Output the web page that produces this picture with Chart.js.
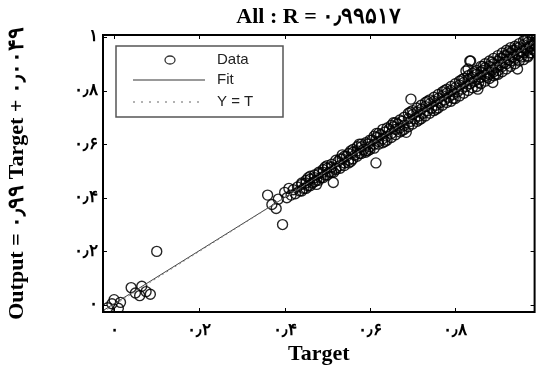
<!DOCTYPE html>
<html>
<head>
<meta charset="utf-8">
<script src="https://cdn.jsdelivr.net/npm/chart.js@4.4.1/dist/chart.umd.min.js"></script>
<style>
  html, body { margin: 0; padding: 0; background: #fff; }
</style>
</head>
<body>
<canvas id="myChart" width="541" height="376"></canvas>
<script>
// network targets and outputs
const targets = [
  -0.015, -0.005, 0.0, 0.01, 0.015, 0.04, 0.05, 0.06, 0.065, 0.075,
  0.085, 0.1, 0.36, 0.37, 0.38, 0.385, 0.395, 0.40, 0.405, 0.41,
  0.415, 0.42, 0.425, 0.43, 0.435, 0.44, 0.445, 0.45, 0.455, 0.46,
  0.465, 0.47, 0.475, 0.48, 0.485, 0.49, 0.495, 0.50, 0.505, 0.51,
  0.514, 0.52, 0.525, 0.53, 0.535, 0.54, 0.545, 0.55, 0.555, 0.56,
  0.565, 0.57, 0.575, 0.58, 0.585, 0.59, 0.595, 0.60, 0.605, 0.61,
  0.614, 0.615, 0.62, 0.625, 0.63, 0.635, 0.64, 0.645, 0.65, 0.655,
  0.66, 0.665, 0.67, 0.675, 0.68, 0.685, 0.69, 0.695, 0.696, 0.70,
  0.705, 0.71, 0.715, 0.72, 0.725, 0.73, 0.735, 0.74, 0.745, 0.75,
  0.755, 0.76, 0.765, 0.77, 0.775, 0.78, 0.785, 0.79, 0.795, 0.80,
  0.805, 0.81, 0.815, 0.82, 0.825, 0.83, 0.83, 0.835, 0.836, 0.84,
  0.845, 0.85, 0.853, 0.855, 0.86, 0.86, 0.865, 0.87, 0.87, 0.875,
  0.88, 0.88, 0.885, 0.888, 0.89, 0.89, 0.895, 0.90, 0.90, 0.905,
  0.91, 0.91, 0.915, 0.92, 0.92, 0.925, 0.93, 0.93, 0.935, 0.94,
  0.94, 0.945, 0.946, 0.95, 0.95, 0.955, 0.96, 0.96, 0.965, 0.97,
  0.97, 0.97, 0.975, 0.98, 0.98, 0.985, 0.99, 0.99, 0.995, 1.0,
  0.825, 0.834,
  0.44, 0.44, 0.45, 0.45, 0.46, 0.46, 0.47, 0.47, 0.48, 0.48,
  0.49, 0.49, 0.50, 0.50, 0.51, 0.51, 0.52, 0.52, 0.53, 0.53,
  0.54, 0.54, 0.55, 0.55, 0.56, 0.56, 0.57, 0.57, 0.58, 0.58,
  0.59, 0.59, 0.60, 0.60, 0.61, 0.61, 0.62, 0.62, 0.63, 0.63,
  0.64, 0.64, 0.65, 0.65, 0.66, 0.66, 0.67, 0.67, 0.68, 0.68,
  0.69, 0.69, 0.70, 0.70, 0.71, 0.71, 0.72, 0.72, 0.73, 0.73,
  0.74, 0.74, 0.75, 0.75, 0.76, 0.76, 0.77, 0.77, 0.78, 0.78,
  0.79, 0.79, 0.80, 0.80, 0.81, 0.81, 0.82, 0.82, 0.83, 0.83,
  0.84, 0.84, 0.85, 0.85, 0.86, 0.86, 0.87, 0.87, 0.88, 0.88,
  0.89, 0.89, 0.90, 0.90, 0.91, 0.91, 0.92, 0.92, 0.93, 0.93,
  0.94, 0.94, 0.95, 0.95, 0.96, 0.96, 0.97, 0.97, 0.98, 0.98,
  0.99, 0.99, 1.0, 1.0, 0.935, 0.955, 0.965, 0.985, 0.975, 0.945,
  0.925, 0.915, 0.905, 0.895, 0.885, 0.875, 0.865, 0.855, 0.845, 0.815,
  0.795, 0.775, 0.755, 0.735, 0.715, 0.695, 0.675, 0.655, 0.635, 0.615,
  0.595, 0.575, 0.555, 0.535, 0.515, 0.495, 0.475, 0.455
];
const outputs = [
  -0.01, 0.005, 0.02, -0.012, 0.01, 0.065, 0.045, 0.035, 0.07, 0.05,
  0.04, 0.2, 0.41, 0.375, 0.36, 0.395, 0.3, 0.42, 0.40, 0.435,
  0.41, 0.43, 0.415, 0.44, 0.425, 0.45, 0.435, 0.455, 0.445, 0.47,
  0.455, 0.475, 0.465, 0.49, 0.475, 0.495, 0.485, 0.51, 0.495, 0.515,
  0.457, 0.51, 0.535, 0.52, 0.545, 0.53, 0.555, 0.54, 0.575, 0.58,
  0.56, 0.575, 0.565, 0.59, 0.58, 0.57, 0.6, 0.59, 0.615, 0.6,
  0.53, 0.625, 0.61, 0.635, 0.62, 0.645, 0.63, 0.655, 0.64, 0.665,
  0.655, 0.675, 0.66, 0.685, 0.67, 0.644, 0.695, 0.685, 0.768, 0.71,
  0.695, 0.72, 0.705, 0.73, 0.715, 0.74, 0.725, 0.75, 0.735, 0.76,
  0.745, 0.77, 0.755, 0.78, 0.765, 0.79, 0.775, 0.8, 0.785, 0.81,
  0.795, 0.82, 0.805, 0.83, 0.815, 0.88, 0.84, 0.825, 0.91, 0.85,
  0.835, 0.86, 0.805, 0.845, 0.87, 0.85, 0.875, 0.855, 0.885, 0.865,
  0.89, 0.86, 0.875, 0.83, 0.9, 0.87, 0.885, 0.91, 0.875, 0.895,
  0.92, 0.89, 0.905, 0.93, 0.9, 0.915, 0.94, 0.91, 0.925, 0.95,
  0.92, 0.935, 0.88, 0.96, 0.93, 0.945, 0.97, 0.94, 0.955, 0.98,
  0.925, 0.95, 0.965, 0.99, 0.955, 0.975, 1.0, 0.965, 0.985, 1.0,
  0.873, 0.91,
  0.425, 0.455, 0.465, 0.435, 0.445, 0.48, 0.46, 0.485, 0.465, 0.495,
  0.475, 0.505, 0.485, 0.52, 0.495, 0.525, 0.54, 0.505, 0.545, 0.51,
  0.555, 0.52, 0.565, 0.53, 0.545, 0.57, 0.555, 0.59, 0.565, 0.6,
  0.605, 0.575, 0.58, 0.615, 0.63, 0.585, 0.6, 0.64, 0.655, 0.605,
  0.615, 0.66, 0.67, 0.625, 0.635, 0.68, 0.69, 0.645, 0.655, 0.7,
  0.715, 0.665, 0.675, 0.725, 0.735, 0.685, 0.695, 0.745, 0.755, 0.705,
  0.715, 0.765, 0.775, 0.725, 0.735, 0.785, 0.795, 0.745, 0.755, 0.805,
  0.815, 0.76, 0.77, 0.825, 0.835, 0.78, 0.79, 0.845, 0.855, 0.8,
  0.81, 0.865, 0.875, 0.815, 0.825, 0.89, 0.9, 0.835, 0.845, 0.91,
  0.92, 0.855, 0.86, 0.93, 0.94, 0.87, 0.88, 0.95, 0.96, 0.89,
  0.9, 0.965, 0.975, 0.91, 0.915, 0.985, 0.995, 0.93, 0.94, 1.005,
  0.945, 0.98, 0.96, 0.975, 0.95, 0.925, 0.99, 0.95, 0.94, 0.96,
  0.945, 0.93, 0.92, 0.86, 0.905, 0.85, 0.89, 0.83, 0.87, 0.84,
  0.77, 0.8, 0.73, 0.76, 0.69, 0.72, 0.65, 0.68, 0.61, 0.64,
  0.575, 0.6, 0.535, 0.56, 0.495, 0.515, 0.45, 0.475
];

// fit: Output = 0.99 Target + 0.0049
const fitSlope = 0.99;
const fitIntercept = 0.0049;

const tickValues = [0, 0.2, 0.4, 0.6, 0.8, 1];
const tickLabels = ['۰', '۰٫۲', '۰٫۴', '۰٫۶', '۰٫۸', '۱'];

const xMin = -0.026, xMax = 0.986;
const yMin = -0.026, yMax = 1.007;

const scatterData = targets.map((t, i) => ({ x: t, y: outputs[i] }));
const fitData = [xMin, xMax].map(t => ({ x: t, y: fitSlope * t + fitIntercept }));
const identData = [xMin, xMax].map(t => ({ x: t, y: t }));

const serif = "'Liberation Serif', 'DejaVu Serif', serif";

function setTicks(scale) {
  scale.ticks = tickValues
    .filter(v => v >= scale.min && v <= scale.max)
    .map(v => ({ value: v }));
}

// MATLAB-like box, inner tick marks and legend
const boxPlugin = {
  id: 'box',
  afterDatasetsDraw(chart) {
    const { ctx, chartArea: a, scales: { x, y } } = chart;
    ctx.save();
    ctx.strokeStyle = '#000';
    ctx.lineWidth = 1;
    ctx.beginPath();
    x.ticks.forEach(t => {
      const px = Math.round(x.getPixelForValue(t.value)) + 0.5;
      ctx.moveTo(px, a.bottom); ctx.lineTo(px, a.bottom - 4);
      ctx.moveTo(px, a.top); ctx.lineTo(px, a.top + 4);
    });
    y.ticks.forEach(t => {
      const py = Math.round(y.getPixelForValue(t.value)) + 0.5;
      ctx.moveTo(a.left, py); ctx.lineTo(a.left + 4, py);
      ctx.moveTo(a.right, py); ctx.lineTo(a.right - 4, py);
    });
    ctx.stroke();
    ctx.lineWidth = 2;
    ctx.strokeRect(a.left, a.top, a.width, a.height);

    // legend
    const lx = a.left + 13, ly = a.top + 11, lw = 167, lh = 71;
    ctx.fillStyle = '#fff';
    ctx.fillRect(lx, ly, lw, lh);
    ctx.strokeStyle = '#555';
    ctx.lineWidth = 1.5;
    ctx.strokeRect(lx, ly, lw, lh);

    ctx.strokeStyle = '#333';
    ctx.lineWidth = 1.3;
    ctx.beginPath();
    ctx.ellipse(lx + 54, ly + 14, 5, 4, 0, 0, Math.PI * 2);
    ctx.stroke();

    ctx.strokeStyle = '#999';
    ctx.lineWidth = 2;
    ctx.beginPath();
    ctx.moveTo(lx + 17, ly + 34); ctx.lineTo(lx + 89, ly + 34);
    ctx.stroke();

    ctx.setLineDash([2, 6]);
    ctx.lineWidth = 1.5;
    ctx.beginPath();
    ctx.moveTo(lx + 17, ly + 56); ctx.lineTo(lx + 89, ly + 56);
    ctx.stroke();
    ctx.setLineDash([]);

    ctx.fillStyle = '#222';
    ctx.font = "15px 'Liberation Sans', Arial, sans-serif";
    ctx.textBaseline = 'middle';
    ctx.textAlign = 'left';
    ctx.fillText('Data', lx + 101, ly + 14);
    ctx.fillText('Fit', lx + 101, ly + 34);
    ctx.fillText('Y = T', lx + 101, ly + 56);
    ctx.restore();
  }
};

const config = {
  type: 'scatter',
  data: {
    datasets: [
      {
        label: 'Data',
        data: scatterData,
        showLine: false,
        pointStyle: 'circle',
        pointRadius: 5,
        pointBorderWidth: 1.4,
        borderColor: 'rgba(0, 0, 0, 0.85)',
        backgroundColor: 'rgba(0, 0, 0, 0)',
        order: 2,
        clip: 0
      },
      {
        label: 'Fit',
        data: fitData,
        showLine: true,
        pointRadius: 0,
        borderColor: '#444',
        borderWidth: 1,
        order: 1
      },
      {
        label: 'Y = T',
        data: identData,
        showLine: true,
        pointRadius: 0,
        borderColor: '#888',
        borderWidth: 1,
        borderDash: [2, 3],
        order: 0
      }
    ]
  },
  options: {
    responsive: false,
    animation: false,
    layout: { padding: { left: 0, right: 3, top: 0, bottom: 0 } },
    plugins: {
      legend: { display: false },
      tooltip: { enabled: false },
      title: {
        display: true,
        text: 'All : R = ۰٫۹۹۵۱۷',
        fullSize: false,
        color: '#000',
        font: { family: serif, size: 22, weight: 'bold', lineHeight: 1.2 },
        padding: { top: 4, bottom: 4.6 }
      }
    },
    scales: {
      x: {
        type: 'linear',
        min: xMin,
        max: xMax,
        afterBuildTicks: setTicks,
        afterFit: s => { s.height = 64; },
        grid: { display: false, drawTicks: false },
        border: { display: false },
        ticks: {
          padding: 8,
          color: '#000',
          font: { family: serif, size: 17, weight: 'bold' },
          callback: v => tickLabels[tickValues.indexOf(v)]
        },
        title: {
          display: true,
          text: 'Target',
          color: '#000',
          font: { family: serif, size: 22, weight: 'bold', lineHeight: 1.2 },
          padding: { top: 0, bottom: 8 }
        }
      },
      y: {
        type: 'linear',
        min: yMin,
        max: yMax,
        afterBuildTicks: setTicks,
        afterFit: s => { s.width = 103; },
        grid: { display: false, drawTicks: false },
        border: { display: false },
        ticks: {
          padding: 5,
          color: '#000',
          font: { family: serif, size: 17, weight: 'bold' },
          callback: v => tickLabels[tickValues.indexOf(v)]
        },
        title: {
          display: true,
          text: 'Output = ۰٫۹۹ Target + ۰٫۰۰۴۹',
          color: '#000',
          font: { family: serif, size: 22, weight: 'bold', lineHeight: 1.2 },
          padding: { top: 4, bottom: 0 }
        }
      }
    }
  },
  plugins: [boxPlugin]
};

var myChart = new Chart(document.getElementById('myChart'), config);
</script>
</body>
</html>
